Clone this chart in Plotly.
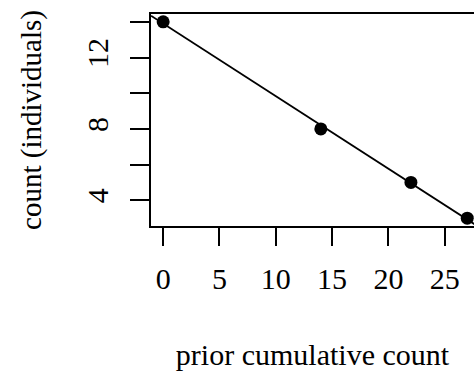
import numpy as np
import plotly.graph_objects as go

# Observations: prior cumulative count vs. count of individuals
prior_cumulative = [0, 14, 22, 27]
count_individuals = [14, 8, 5, 3]

# Axis ticks and labels
x_tick_vals = [0, 5, 10, 15, 20, 25]
x_tick_text = ["0", "5", "10", "15", "20", "25"]
y_tick_vals = [4, 6, 8, 10, 12, 14]
y_tick_text = ["4", "", "8", "", "12", ""]

x_title = "prior cumulative count"
y_title = "count (individuals)"

FONT = "Liberation Serif, Times New Roman, serif"
FS = 30

x_range = [-1.08, 27.6]
y_range = [2.56, 14.44]

# Least-squares line drawn across the full plotting region
slope, intercept = np.polyfit(prior_cumulative, count_individuals, 1)
fit_x = np.array([x_range[0], 28.08])
fit_y = intercept + slope * fit_x

fig = go.Figure()
fig.add_trace(go.Scatter(
    x=fit_x, y=fit_y, mode="lines",
    line=dict(color="black", width=1.8),
    hoverinfo="skip", showlegend=False,
))
fig.add_trace(go.Scatter(
    x=prior_cumulative, y=count_individuals, mode="markers",
    marker=dict(color="black", size=13),
    cliponaxis=False, showlegend=False,
))

fig.update_layout(
    width=474, height=375,
    margin=dict(l=151, r=0, t=14, b=149),
    paper_bgcolor="white", plot_bgcolor="white",
    font=dict(family=FONT, size=FS, color="black"),
    xaxis=dict(
        range=x_range, tickvals=x_tick_vals, ticktext=x_tick_text,
        ticks="outside", ticklen=18, tickwidth=1.5, tickcolor="black",
        showline=True, linecolor="black", linewidth=1.5, mirror=True,
        showgrid=False, zeroline=False, ticklabelstandoff=7,
        title=dict(text=x_title, standoff=50, font=dict(size=FS)),
    ),
    yaxis=dict(
        range=y_range, tickvals=y_tick_vals, ticktext=y_tick_text,
        ticks="outside", ticklen=19, tickwidth=1.5, tickcolor="black",
        tickangle=-90,
        showline=True, linecolor="black", linewidth=1.5, mirror=False,
        showgrid=False, zeroline=False, ticklabelstandoff=10,
        title=dict(text=y_title, standoff=31, font=dict(size=29)),
    ),
)

fig.write_html("out.html")
